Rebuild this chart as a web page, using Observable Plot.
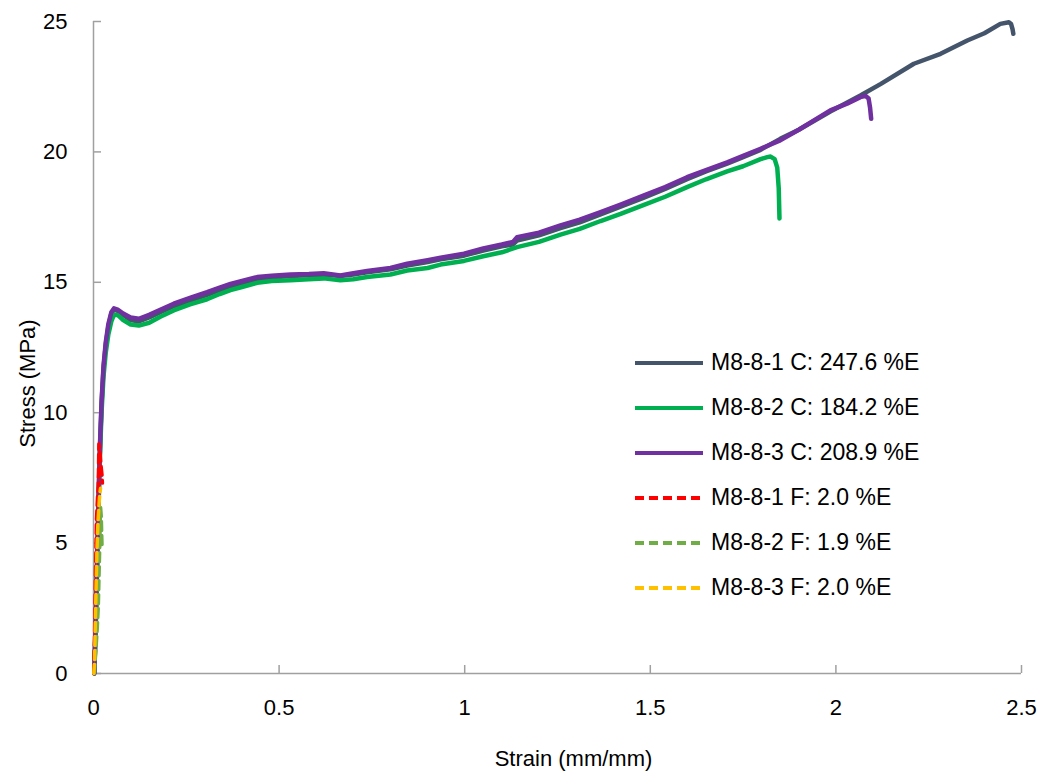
<!DOCTYPE html>
<html>
<head>
<meta charset="utf-8">
<script src="https://cdn.jsdelivr.net/npm/d3@7"></script>
<script src="https://cdn.jsdelivr.net/npm/@observablehq/plot@0.6"></script>
<style>
  html, body { margin: 0; padding: 0; background: #fff; }
  #wrap { position: relative; width: 1045px; height: 777px; font-family: "Liberation Sans", Arial, sans-serif; }
  #legend { position: absolute; left: 634px; top: 340px; font-size: 23px; color: #000; }
  .row { height: 45px; display: flex; align-items: center; margin: 0; }
  .row svg { margin-right: 7px; }
</style>
</head>
<body>
<div id="wrap"></div>
<script>
// ---- Series data (strain mm/mm, stress MPa) ----
const c1Strain = [0.002,0.006,0.01,0.014,0.018,0.022,0.027,0.033,0.04,0.048,0.055,0.065,0.08,0.1,0.122,0.15,0.18,0.216,0.26,0.306,0.34,0.369,0.4,0.441,0.48,0.531,0.58,0.62,0.665,0.7,0.737,0.8,0.845,0.9,0.935,0.998,1.05,1.1,1.13,1.141,1.2,1.258,1.31,1.366,1.42,1.483,1.54,1.599,1.65,1.707,1.75,1.797,1.85,1.9,1.985,2.066,2.12,2.21,2.282,2.354,2.4,2.443,2.466,2.472,2.476,2.478];
const c1Stress = [0,1.9,4.4,6.9,8.9,10.4,11.7,12.6,13.3,13.8,13.95,13.9,13.75,13.55,13.5,13.65,13.85,14.08,14.3,14.52,14.7,14.85,14.97,15.12,15.18,15.24,15.27,15.3,15.24,15.3,15.38,15.5,15.64,15.78,15.88,16.02,16.22,16.38,16.45,16.6,16.8,17.08,17.3,17.6,17.9,18.25,18.58,18.95,19.25,19.55,19.8,20.08,20.5,20.85,21.55,22.16,22.6,23.38,23.76,24.27,24.55,24.91,24.97,24.9,24.7,24.53];

const c2Strain = [0.002,0.006,0.01,0.014,0.018,0.022,0.027,0.033,0.04,0.048,0.055,0.065,0.08,0.1,0.122,0.15,0.18,0.216,0.26,0.306,0.34,0.369,0.4,0.441,0.48,0.531,0.58,0.62,0.665,0.7,0.737,0.8,0.845,0.9,0.935,0.998,1.05,1.1,1.141,1.2,1.258,1.31,1.366,1.42,1.483,1.54,1.599,1.65,1.707,1.75,1.797,1.815,1.824,1.835,1.842,1.846,1.848];
const c2Stress = [0,1.8,4.2,6.6,8.6,10.1,11.4,12.3,13.0,13.5,13.75,13.75,13.55,13.38,13.34,13.45,13.68,13.92,14.15,14.35,14.55,14.7,14.82,14.98,15.05,15.08,15.12,15.15,15.08,15.12,15.2,15.3,15.45,15.55,15.68,15.82,16.0,16.15,16.35,16.55,16.83,17.05,17.35,17.62,17.97,18.28,18.65,18.95,19.25,19.45,19.72,19.8,19.82,19.72,19.4,18.6,17.45];

const c3Strain = [0.002,0.006,0.01,0.014,0.018,0.022,0.027,0.033,0.04,0.048,0.055,0.065,0.08,0.1,0.122,0.15,0.18,0.216,0.26,0.306,0.34,0.369,0.4,0.441,0.48,0.531,0.58,0.62,0.665,0.7,0.737,0.8,0.845,0.9,0.935,0.998,1.05,1.1,1.13,1.141,1.2,1.258,1.31,1.366,1.42,1.483,1.54,1.599,1.65,1.707,1.75,1.797,1.85,1.9,1.985,2.03,2.066,2.08,2.088,2.092,2.095];
const c3Stress = [0,2,4.5,7,9,10.5,11.8,12.7,13.4,13.85,14.0,13.95,13.8,13.65,13.6,13.75,13.95,14.18,14.4,14.62,14.8,14.94,15.05,15.2,15.25,15.3,15.32,15.35,15.26,15.35,15.43,15.55,15.71,15.85,15.94,16.1,16.3,16.45,16.55,16.73,16.9,17.18,17.4,17.69,17.98,18.33,18.65,19.03,19.3,19.6,19.85,20.12,20.44,20.85,21.59,21.85,22.1,22.15,22.05,21.7,21.27];

const f1Strain = [0.001,0.003,0.005,0.008,0.011,0.013,0.0145,0.017,0.02,0.023,0.024];
const f1Stress = [0,1.5,3.5,5.9,6.8,7.2,8.8,8.6,8.0,7.6,7.3];
const f2Strain = [0.002,0.006,0.01,0.013,0.015,0.017,0.019,0.021,0.022,0.023];
const f2Stress = [0,0.8,1.7,2.6,3.8,5.0,6.4,6.0,5.4,4.9];
const f3Strain = [0.001,0.003,0.005,0.007,0.009,0.012,0.015,0.017,0.019];
const f3Stress = [0,0.6,2.0,3.3,4.6,5.8,6.5,6.9,7.1];

const seriesNames = ["M8-8-1 C: 247.6 %E","M8-8-2 C: 184.2 %E","M8-8-3 C: 208.9 %E","M8-8-1 F: 2.0 %E","M8-8-2 F: 1.9 %E","M8-8-3 F: 2.0 %E"];
const seriesColors = ["#44546A","#00B050","#7030A0","#FF0000","#70AD47","#FFC000"];
const seriesDashed = [false,false,false,true,true,true];
const xTicks = [0,0.5,1,1.5,2,2.5];
const yTicks = [0,5,10,15,20,25];
const xTitle = "Strain (mm/mm)";
const yTitle = "Stress (MPa)";

const allStrain = [c1Strain,c2Strain,c3Strain,f1Strain,f2Strain,f3Strain];
const allStress = [c1Stress,c2Stress,c3Stress,f1Stress,f2Stress,f3Stress];
const rows = [];
allStrain.forEach((xs, s) => xs.forEach((x, i) => rows.push({series: seriesNames[s], idx: s, strain: x, stress: allStress[s][i]})));

const axisColor = "#a0a0a0";
const lineMarks = seriesNames.map((name, s) => Plot.line(rows.filter(d => d.idx === s), {
  x: "strain", y: "stress",
  stroke: seriesColors[s],
  strokeWidth: seriesDashed[s] ? 3.5 : 4.5,
  strokeDasharray: seriesDashed[s] ? "9,5" : null,
  strokeLinejoin: "round"
}));

const chart = Plot.plot({
  width: 1045,
  height: 777,
  marginLeft: 93,
  marginRight: 24,
  marginTop: 21,
  marginBottom: 104,
  style: {fontFamily: '"Liberation Sans", Arial, sans-serif', fontSize: "22px", color: "#000", background: "#fff"},
  x: {domain: [0, 2.5]},
  y: {domain: [0, 25]},
  marks: [
    Plot.ruleX([0], {stroke: axisColor, strokeWidth: 1.5}),
    Plot.ruleY([0], {stroke: axisColor, strokeWidth: 1.5}),
    Plot.axisX({ticks: xTicks, tickFormat: d => String(d), tickSize: -8, tickPadding: 34, stroke: axisColor, strokeWidth: 1.5, label: null, fill: "#000"}),
    Plot.axisY({ticks: yTicks, tickFormat: d => String(d), tickSize: -8, tickPadding: 34, stroke: axisColor, strokeWidth: 1.5, label: null, fill: "#000"}),
    ...lineMarks,
    Plot.text([xTitle], {frameAnchor: "bottom", dy: 85, dx: 16, lineAnchor: "middle", textAnchor: "middle", fill: "#000"}),
    Plot.text([yTitle], {frameAnchor: "left", dx: -66, dy: 36, rotate: -90, textAnchor: "middle", lineAnchor: "middle", fill: "#000"})
  ]
});

const wrap = document.getElementById("wrap");
wrap.appendChild(chart);

const legend = document.createElement("div");
legend.id = "legend";
seriesNames.forEach((name, s) => {
  const row = document.createElement("div");
  row.className = "row";
  row.innerHTML = `<svg width="70" height="10"><line x1="1" y1="5" x2="69" y2="5" stroke="${seriesColors[s]}" stroke-width="4" ${seriesDashed[s] ? 'stroke-dasharray="9,5"' : ''}/></svg><span>${name}</span>`;
  legend.appendChild(row);
});
wrap.appendChild(legend);
</script>
</body>
</html>
